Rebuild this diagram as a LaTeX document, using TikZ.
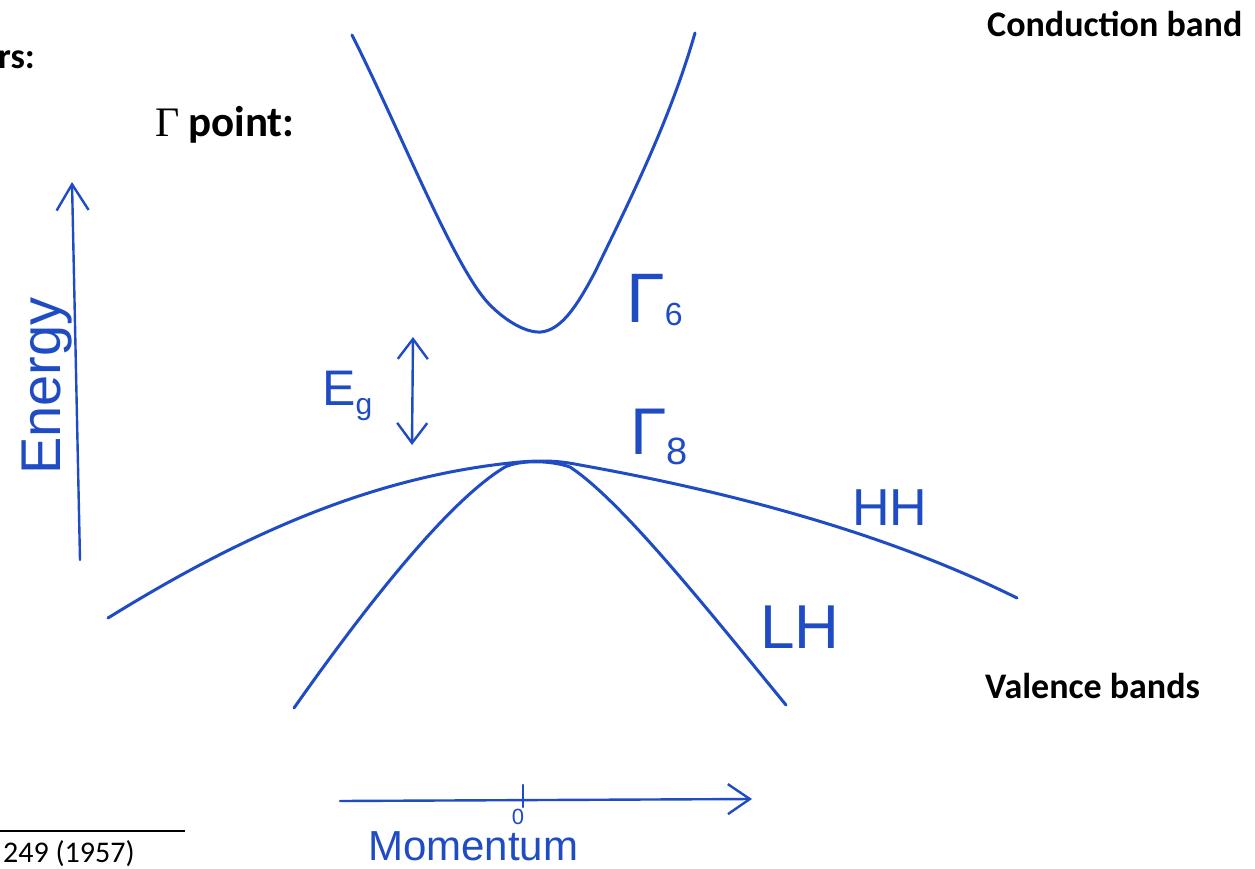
\documentclass[tikz,border=0pt]{standalone}
\usepackage{fontspec}
\setmainfont{Carlito}
\newfontfamily\hand{Liberation Sans}
\newfontfamily\greekserif{Liberation Serif}
\usetikzlibrary{arrows.meta}
\definecolor{handblue}{RGB}{32,76,195}
\tikzset{
  band/.style={draw=handblue, line width=3pt, line cap=round, line join=round},
  axisline/.style={draw=handblue, line width=2.4pt, line cap=round},
  handlbl/.style={text=handblue, font=\hand, inner sep=0pt},
  title/.style={font=\bfseries\fontsize{36}{40}\selectfont, inner sep=0pt, anchor=base west},
}
\begin{document}
\begin{tikzpicture}[x=1pt,y=-1pt]
\useasboundingbox[fill=white] (0,0) rectangle (1255,869);

% black titles
\node[title] (rs) at (-2,69) {rs:};
\node[inner sep=0pt, anchor=base west] (gp) at (155,137) {{\greekserif\fontsize{42}{46}\selectfont Γ}\hspace{9pt}{\bfseries\fontsize{43}{46}\selectfont point:}};
\node[title] (cb) at (987,37) {Conduction band};
\node[title] (vb) at (985,698) {Valence bands};
\node[inner sep=0pt, anchor=base west, font=\fontsize{30}{34}\selectfont] (ref) at (3,862) {249 (1957)};
\coordinate (r1) at (0,831); \coordinate (r2) at (185,831);
\draw[line width=1.5pt] (r1) -- (r2);

% conduction band
\draw[band] (352,35) .. controls (400,130) and (455,270) .. (490,305)
  .. controls (505,320) and (525,333) .. (541,332)
  .. controls (560,330) and (575,310) .. (595,272)
  .. controls (630,200) and (670,120) .. (695,33);
% heavy hole band
\draw[band] (108,618) .. controls (250,530) and (380,475) .. (520,462)
  .. controls (545,460) and (560,461) .. (580,465)
  .. controls (720,490) and (880,530) .. (1017,598);
% light hole band
\draw[band] (294,708) .. controls (370,600) and (450,500) .. (505,467)
  .. controls (520,460) and (550,460) .. (570,467)
  .. controls (620,500) and (700,600) .. (786,705);

% energy axis
\coordinate (eb) at (80,560); \coordinate (et) at (72,182);
\draw[axisline, -{Straight Barb[length=26pt,width=32pt,line width=2.4pt]}] (eb) -- (et);
\node[handlbl, rotate=90, anchor=base, font=\hand\fontsize{56}{60}\selectfont] (energy) at (60,386) {Energy};

% band gap arrow
\coordinate (gt) at (413,337); \coordinate (gb) at (412,445);
\draw[axisline, {Straight Barb[length=20pt,width=30pt,line width=2.4pt]}-{Straight Barb[length=20pt,width=30pt,line width=2.4pt]}] (gt) -- (gb);
\node[handlbl, anchor=base west, font=\hand\fontsize{50}{54}\selectfont] (eg) at (322,405) {E\raisebox{-0.35ex}{\fontsize{30}{32}\selectfont g}};

% gamma labels
\node[handlbl, anchor=base west, font=\hand\fontsize{70}{74}\selectfont] (g6) at (626,322) {Γ\raisebox{-0.1ex}{\fontsize{32}{34}\selectfont 6}};
\node[handlbl, anchor=base west, font=\hand\fontsize{66}{70}\selectfont] (g8) at (630,454) {Γ\raisebox{-0.3ex}{\fontsize{38}{40}\selectfont 8}};
\node[handlbl, anchor=base west, font=\hand\fontsize{52}{56}\selectfont] (hh) at (852,525) {HH};
\node[handlbl, anchor=base west, font=\hand\fontsize{62}{66}\selectfont] (lh) at (760,648) {LH};

% momentum axis
\coordinate (ml) at (340,801); \coordinate (mr) at (752,799);
\draw[axisline, -{Straight Barb[length=22pt,width=30pt,line width=2.4pt]}] (ml) -- (mr);
\coordinate (tk1) at (523,785); \coordinate (tk2) at (523,807);
\draw[axisline] (tk1) -- (tk2);
\node[handlbl, anchor=base, font=\hand\fontsize{22}{24}\selectfont] (zero) at (518,824) {0};
\node[handlbl, anchor=base west, font=\hand\fontsize{42}{46}\selectfont] (mom) at (368,860) {Momentum};
\end{tikzpicture}
\end{document}
